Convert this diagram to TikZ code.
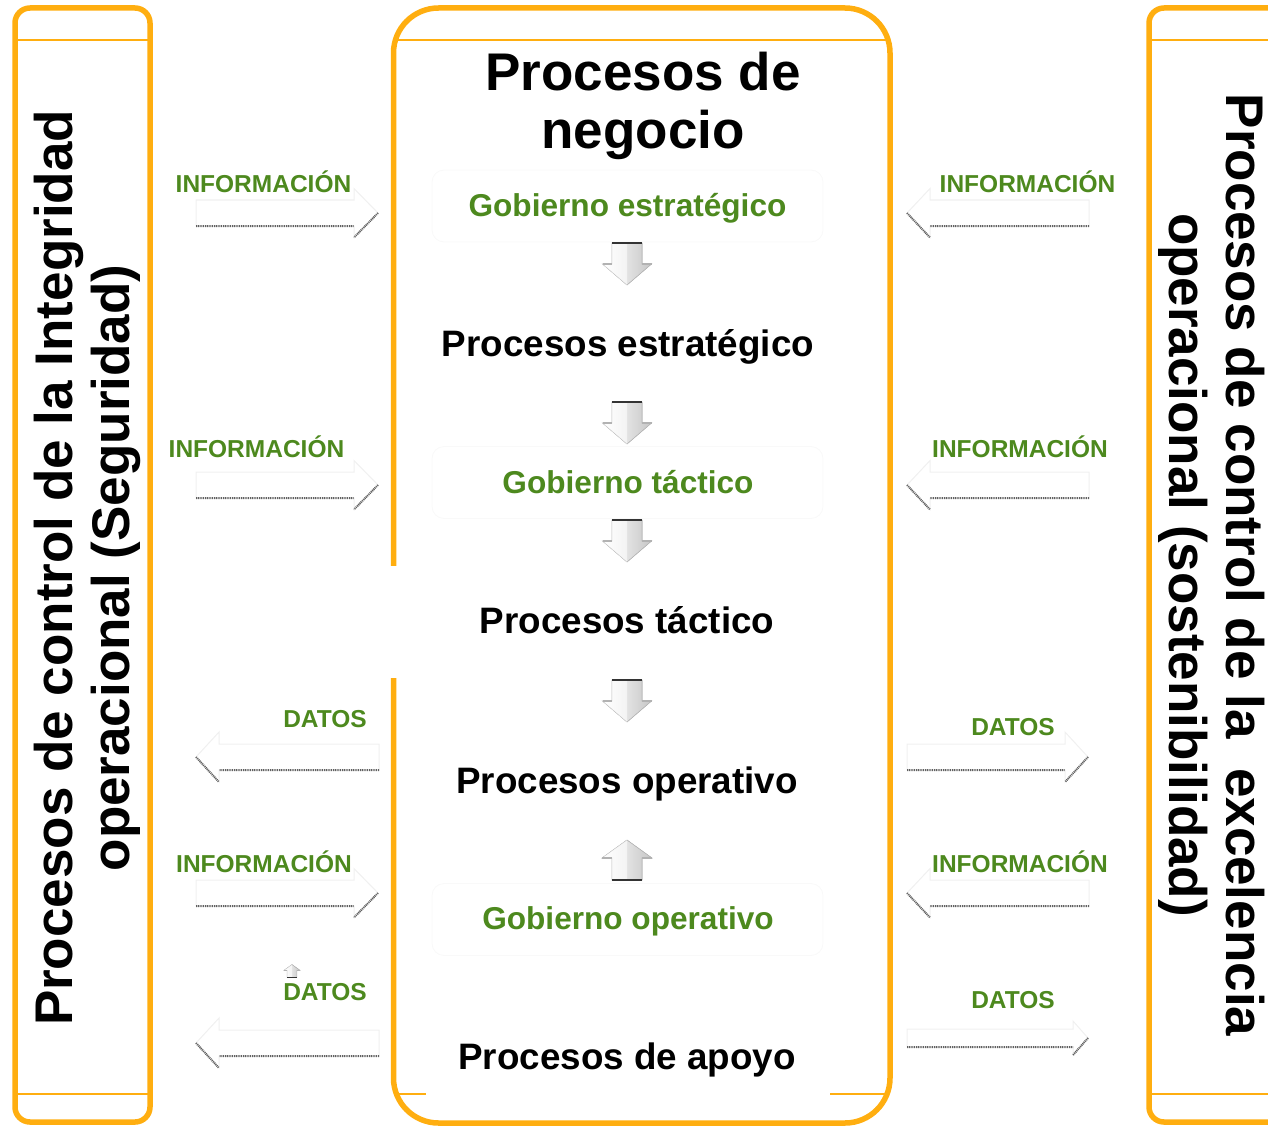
\documentclass[tikz,border=0pt]{standalone}
\usepackage{fontspec}
\setmainfont{Liberation Sans}
\definecolor{naranja}{RGB}{255,174,16}
\definecolor{verde}{RGB}{77,137,30}

\tikzset{
  marco/.style={draw=naranja, line width=5.5pt, rounded corners=#1},
  divisor/.style={draw=naranja, line width=2.5pt},
  caja/.style={fill=white, draw=gray!5, line width=0.8pt, rounded corners=12pt, inner sep=0pt},
  tapa/.style={fill=white, draw=none, inner sep=0pt},
  etiqueta/.style={font=\fontsize{24.5}{28}\selectfont\bfseries, text=verde, inner sep=0pt, anchor=base},
  gobierno/.style={font=\fontsize{31.6}{36}\selectfont\bfseries, text=verde, inner sep=0pt, anchor=base},
  proceso/.style={font=\fontsize{36.8}{42}\selectfont\bfseries, text=black, inner sep=0pt, anchor=base},
  vertical/.style={font=\fontsize{53}{57}\selectfont\bfseries, align=center, inner sep=0pt},
  cuerpo/.style={fill=white, draw=gray!12, line width=1pt, line join=miter},
  sombra/.style={draw=gray!75!black, line width=2pt, dash pattern=on 1pt off 0.8pt},
  % small bevelled block arrows between the levels
  pics/flechabaja/.style={code={
    \fill[left color=white, right color=gray!45, draw=gray!55, line width=0.6pt]
      (-15,-21) -- (15,-21) -- (15,0) -- (24.5,0) -- (0,21) -- (-24.5,0) -- (-15,0) -- cycle;
    \fill[white, opacity=0.6] (-15,-21) -- (0,-21) -- (0,21) -- (-24.5,0) -- (-15,0) -- cycle;
    \draw[gray!40!black, line width=1.6pt] (-15,-21) -- (15,-21);
    \draw[gray!60, line width=1.2pt] (-24.5,0) -- (-15,0) (15,0) -- (24.5,0);
  }},
  pics/flechaalta/.style={code={
    \fill[left color=white, right color=gray!45, draw=gray!55, line width=0.6pt]
      (-15,20) -- (15,20) -- (15,-2) -- (25,-2) -- (0,-20) -- (-25,-2) -- (-15,-2) -- cycle;
    \fill[white, opacity=0.6] (-15,20) -- (0,20) -- (0,-20) -- (-25,-2) -- (-15,-2) -- cycle;
    \draw[gray!40!black, line width=1.6pt] (-15,20) -- (15,20);
    \draw[gray!60, line width=1.2pt] (-25,-2) -- (-15,-2) (15,-2) -- (25,-2);
  }},
}

% large outlined block arrow: tail x, head base x, tip x, axis y, half body, half head
\newcommand\flecha[6]{%
  \draw[cuerpo] (#1,#4-#5) -- (#2,#4-#5) -- (#2,#4-#6) -- (#3,#4)
    -- (#2,#4+#6) -- (#2,#4+#5) -- (#1,#4+#5) -- cycle;
  \draw[sombra] (#1,#4+#5) -- (#2,#4+#5) (#3,#4) -- (#2,#4+#6);
}

\begin{document}
\begin{tikzpicture}[x=1pt, y=-1pt]
\useasboundingbox (0,0) rectangle (1268,1126);

% frames
\draw[marco=15pt] (15,8) rectangle (150,1122);
\draw[divisor] (17,40) -- (148,40) (17,1094) -- (148,1094);

\draw[marco=45pt] (393.5,8) rectangle (890,1123);
\draw[divisor, line width=2pt] (395,40) -- (888,40) (396,1094) -- (887,1094);

\draw[marco=15pt] (1149,8) rectangle (1300,1122);
\draw[divisor] (1151,40) -- (1270,40) (1151,1094) -- (1270,1094);

% white panels inside the central frame
\node[caja, minimum width=391pt, minimum height=72pt] (cajaGE) at (627.5,206) {};
\node[caja, minimum width=391pt, minimum height=72pt] (cajaGT) at (627.5,482.5) {};
\node[tapa, minimum width=478pt, minimum height=112pt] (cajaPT) at (627,622) {};
\node[caja, minimum width=391pt, minimum height=72pt] (cajaGO) at (627.5,919.5) {};
\node[tapa, minimum width=404pt, minimum height=84pt] (cajaPA) at (628,1060) {};

% side titles
\node[vertical, rotate=90] (izq) at (87,568)
  {Procesos de control de la Integridad\\operacional (Seguridad)};
\node[vertical, rotate=-90] (der) at (1212,565)
  {Procesos de control de la~ excelencia\\operacional (sostenibilidad)};

% central column
\node[vertical, font=\fontsize{53}{58}\selectfont\bfseries] (titulo) at (643,105.5)
  {Procesos de\\negocio};
\node[gobierno] (ge) at (627.5,216) {Gobierno estratégico};
\node[proceso] (pe) at (628,356) {Procesos estratégico};
\node[gobierno] (gt) at (628,493) {Gobierno táctico};
\node[proceso] (pt) at (627,633) {Procesos táctico};
\node[proceso] (po) at (627,793) {Procesos operativo};
\node[gobierno] (go) at (628,929) {Gobierno operativo};
\node[proceso] (pa) at (627,1069) {Procesos de apoyo};

\pic at (627,264) {flechabaja};
\pic at (627,423) {flechabaja};
\pic at (627,541) {flechabaja};
\pic at (627,701) {flechabaja};
\pic at (627,860) {flechaalta};

% left-hand flows
\node[etiqueta] (i1) at (263.5,193) {INFORMACIÓN};
\flecha{196}{354}{378}{213}{13}{24.5}
\node[etiqueta] (i2) at (256.5,457) {INFORMACIÓN};
\flecha{196}{354}{378}{485}{13}{24.5}
\node[etiqueta] (d1) at (325,727) {DATOS};
\flecha{379}{219}{196}{757}{13}{25}
\node[etiqueta] (i3) at (264,872) {INFORMACIÓN};
\flecha{196}{354}{378}{893}{13}{24.5}
\pic[scale=0.32] at (292,971) {flechaalta};
\node[etiqueta] (d2) at (325,1000) {DATOS};
\flecha{379}{219}{196}{1043}{13}{25}

% right-hand flows
\node[etiqueta] (i4) at (1027.5,193) {INFORMACIÓN};
\flecha{1089}{930}{907}{213}{13}{24.5}
\node[etiqueta] (i5) at (1020,457) {INFORMACIÓN};
\flecha{1089}{930}{907}{485}{13}{24.5}
\node[etiqueta] (d3) at (1013,735) {DATOS};
\flecha{907}{1065}{1088}{757}{13}{25}
\node[etiqueta] (i6) at (1020,872) {INFORMACIÓN};
\flecha{1089}{930}{907}{893}{13}{24.5}
\node[etiqueta] (d4) at (1013,1008) {DATOS};
\flecha{907}{1073}{1088}{1038}{9}{17}
\end{tikzpicture}
\end{document}
